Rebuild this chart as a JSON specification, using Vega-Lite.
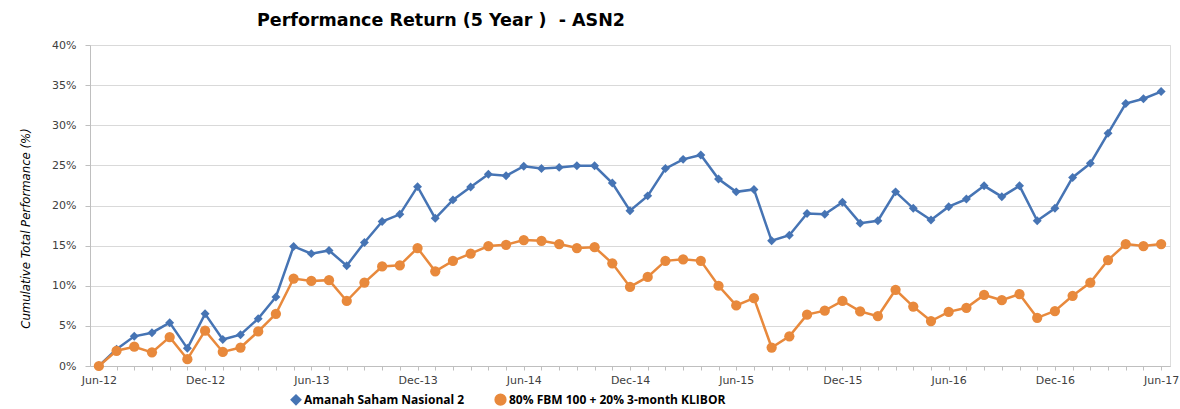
{
  "$schema": "https://vega.github.io/schema/vega-lite/v6.json",
  "width": 1080,
  "height": 321,
  "autosize": {"type": "none"},
  "padding": {"left": 90, "top": 45, "right": 10, "bottom": 43},
  "background": "white",
  "title": {"text": "Performance Return (5 Year )\u00a0 - ASN2", "anchor": "start", "frame": "group", "dx": 167, "offset": 10, "font": "DejaVu Sans", "fontSize": 17.5, "fontWeight": "bold", "color": "#000000"},
  "data": {"values": [
    {"m": "Jun-12", "a": 0.0, "b": 0.0},
    {"m": "Jul-12", "a": 0.021, "b": 0.019},
    {"m": "Aug-12", "a": 0.037, "b": 0.024},
    {"m": "Sep-12", "a": 0.0415, "b": 0.017},
    {"m": "Oct-12", "a": 0.054, "b": 0.036},
    {"m": "Nov-12", "a": 0.022, "b": 0.0085},
    {"m": "Dec-12", "a": 0.065, "b": 0.044},
    {"m": "Jan-13", "a": 0.033, "b": 0.0175},
    {"m": "Feb-13", "a": 0.039, "b": 0.023},
    {"m": "Mar-13", "a": 0.059, "b": 0.043},
    {"m": "Apr-13", "a": 0.086, "b": 0.065},
    {"m": "May-13", "a": 0.149, "b": 0.109},
    {"m": "Jun-13", "a": 0.140, "b": 0.106},
    {"m": "Jul-13", "a": 0.144, "b": 0.107},
    {"m": "Aug-13", "a": 0.125, "b": 0.081},
    {"m": "Sep-13", "a": 0.154, "b": 0.104},
    {"m": "Oct-13", "a": 0.180, "b": 0.124},
    {"m": "Nov-13", "a": 0.189, "b": 0.1255},
    {"m": "Dec-13", "a": 0.2235, "b": 0.147},
    {"m": "Jan-14", "a": 0.184, "b": 0.118},
    {"m": "Feb-14", "a": 0.207, "b": 0.131},
    {"m": "Mar-14", "a": 0.223, "b": 0.140},
    {"m": "Apr-14", "a": 0.239, "b": 0.1495},
    {"m": "May-14", "a": 0.237, "b": 0.151},
    {"m": "Jun-14", "a": 0.249, "b": 0.157},
    {"m": "Jul-14", "a": 0.246, "b": 0.156},
    {"m": "Aug-14", "a": 0.2475, "b": 0.152},
    {"m": "Sep-14", "a": 0.2495, "b": 0.147},
    {"m": "Oct-14", "a": 0.2495, "b": 0.148},
    {"m": "Nov-14", "a": 0.228, "b": 0.128},
    {"m": "Dec-14", "a": 0.1935, "b": 0.0985},
    {"m": "Jan-15", "a": 0.212, "b": 0.111},
    {"m": "Feb-15", "a": 0.246, "b": 0.131},
    {"m": "Mar-15", "a": 0.2575, "b": 0.133},
    {"m": "Apr-15", "a": 0.263, "b": 0.131},
    {"m": "May-15", "a": 0.233, "b": 0.100},
    {"m": "Jun-15", "a": 0.217, "b": 0.0755},
    {"m": "Jul-15", "a": 0.220, "b": 0.0845},
    {"m": "Aug-15", "a": 0.156, "b": 0.023},
    {"m": "Sep-15", "a": 0.163, "b": 0.037},
    {"m": "Oct-15", "a": 0.190, "b": 0.064},
    {"m": "Nov-15", "a": 0.189, "b": 0.069},
    {"m": "Dec-15", "a": 0.204, "b": 0.081},
    {"m": "Jan-16", "a": 0.178, "b": 0.068},
    {"m": "Feb-16", "a": 0.181, "b": 0.062},
    {"m": "Mar-16", "a": 0.217, "b": 0.095},
    {"m": "Apr-16", "a": 0.1965, "b": 0.074},
    {"m": "May-16", "a": 0.182, "b": 0.056},
    {"m": "Jun-16", "a": 0.1985, "b": 0.0675},
    {"m": "Jul-16", "a": 0.208, "b": 0.0725},
    {"m": "Aug-16", "a": 0.2245, "b": 0.0885},
    {"m": "Sep-16", "a": 0.211, "b": 0.082},
    {"m": "Oct-16", "a": 0.2245, "b": 0.0895},
    {"m": "Nov-16", "a": 0.181, "b": 0.060},
    {"m": "Dec-16", "a": 0.1965, "b": 0.0685},
    {"m": "Jan-17", "a": 0.235, "b": 0.0875},
    {"m": "Feb-17", "a": 0.2525, "b": 0.104},
    {"m": "Mar-17", "a": 0.290, "b": 0.132},
    {"m": "Apr-17", "a": 0.327, "b": 0.152},
    {"m": "May-17", "a": 0.333, "b": 0.1495},
    {"m": "Jun-17", "a": 0.342, "b": 0.152}
  ]},
  "transform": [
    {"fold": ["a", "b"], "as": ["k", "v"]}
  ],
  "encoding": {
    "x": {
      "field": "m", "type": "ordinal", "sort": null,
      "scale": {"type": "point", "padding": 0.5},
      "axis": {
        "title": null, "grid": false, "labelAngle": 0, "labelOverlap": false,
        "domainColor": "#bfbfbf", "tickColor": "#bfbfbf", "tickSize": 4,
        "labelExpr": "(slice(datum.value,0,3)=='Jun' || slice(datum.value,0,3)=='Dec') ? datum.value : ''",
        "labelFont": "DejaVu Sans", "labelFontSize": 11, "labelColor": "#404040", "labelPadding": 4
      }
    },
    "y": {
      "field": "v", "type": "quantitative",
      "scale": {"domain": [0, 0.4], "nice": false, "zero": true},
      "axis": {
        "title": "Cumulative Total Performance (%)", "format": ".0%", "values": [0, 0.05, 0.1, 0.15, 0.2, 0.25, 0.3, 0.35, 0.4],
        "grid": true, "gridColor": "#d9d9d9", "domainColor": "#bfbfbf", "tickColor": "#bfbfbf", "tickSize": 5,
        "labelFont": "DejaVu Sans", "labelFontSize": 11, "labelColor": "#404040", "labelPadding": 9,
        "titleFont": "DejaVu Sans Condensed, Roboto", "titleFontStyle": "italic", "titleFontWeight": "normal", "titleFontSize": 13, "titleColor": "#000000",
        "titleX": -58, "titleY": 183
      }
    },
    "color": {
      "field": "k", "type": "nominal",
      "scale": {"domain": ["a", "b"], "range": ["#4674B4", "#E8893C"]},
      "legend": {
        "orient": "none", "legendX": 200, "legendY": 348, "direction": "horizontal", "title": null,
        "labelExpr": "datum.value == 'a' ? 'Amanah Saham Nasional 2' : '80% FBM 100 + 20% 3-month KLIBOR'",
        "labelFont": "Open Sans", "labelFontSize": 12, "labelFontWeight": "bold", "labelColor": "#000000", "labelLimit": 400,
        "symbolSize": 400, "symbolStrokeWidth": 2, "columnPadding": 26, "labelOffset": 2,
        "encode": {"symbols": {"update": {
          "shape": {"signal": "datum.value == 'a' ? 'M-1,0H1M-0.35,0L0,-0.35L0.35,0L0,0.35Z' : 'M-1,0H1M-0.42,0A0.42,0.42,0,1,0,0.42,0A0.42,0.42,0,1,0,-0.42,0Z'"},
          "fill": {"signal": "datum.value == 'a' ? '#4674B4' : '#E8893C'"},
          "stroke": {"signal": "datum.value == 'a' ? '#4674B4' : '#E8893C'"},
          "strokeWidth": {"value": 2},
          "strokeOpacity": {"value": 1},
          "fillOpacity": {"value": 1},
          "opacity": {"value": 1}
        }}}
      }
    }
  },
  "layer": [
    {"mark": {"type": "line", "strokeWidth": 2.5}},
    {
      "mark": {"type": "point", "filled": true, "opacity": 1},
      "encoding": {
        "shape": {"field": "k", "type": "nominal", "scale": {"domain": ["a", "b"], "range": ["diamond", "circle"]}, "legend": null},
        "size": {"field": "k", "type": "nominal", "scale": {"domain": ["a", "b"], "range": [80, 105]}, "legend": null}
      }
    }
  ]
}
